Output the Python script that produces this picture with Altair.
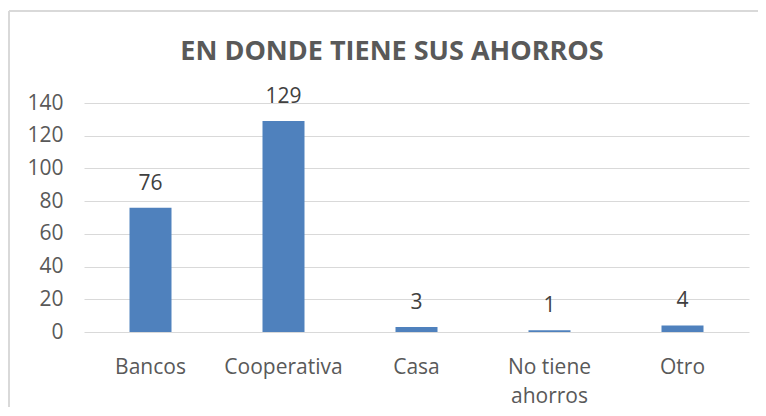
import altair as alt
import pandas as pd

categories = ["Bancos", "Cooperativa", "Casa", "No tiene ahorros", "Otro"]
values = [76, 129, 3, 1, 4]
y_ticks = [0, 20, 40, 60, 80, 100, 120, 140]
title_text = "EN DONDE TIENE SUS AHORROS"

df = pd.DataFrame({"cat": categories, "val": values})

FONT = "Open Sans"
TXT = "#595959"

x_enc = alt.X("cat:N", sort=categories, title=None,
              scale=alt.Scale(paddingInner=0, paddingOuter=0),
              axis=alt.Axis(labelAngle=0, ticks=False, domain=False, grid=False,
                            labelPadding=24, labelFontSize=21, labelColor=TXT,
                            labelFont=FONT, labelLineHeight=29,
                            labelExpr="datum.label == 'No tiene ahorros' ? ['No tiene', 'ahorros'] : datum.label"))
y_enc = alt.Y("val:Q", title=None,
              scale=alt.Scale(domain=[0, 140]),
              axis=alt.Axis(values=y_ticks, ticks=False, domain=False,
                            labelOverlap=False,
                            gridColor="#D9D9D9", gridWidth=1, labelPadding=21,
                            labelFontSize=21, labelColor=TXT, labelFont=FONT))

bars = alt.Chart(df).mark_bar(size=42, color="#4F81BD").encode(x=x_enc, y=y_enc)
labels = alt.Chart(df).mark_text(baseline="alphabetic", dy=-18, fontSize=21, color="#404040", font=FONT).encode(
    x=x_enc, y=y_enc, text="val:Q")

one = pd.DataFrame({"a": [0]})
border_top = alt.Chart(one).mark_rule(color="#D9D9D9", strokeWidth=2, clip=False).encode(
    x=alt.value(-75), x2=alt.value(800), y=alt.value(-92))
border_left = alt.Chart(one).mark_rule(color="#D9D9D9", strokeWidth=2, clip=False).encode(
    x=alt.value(-75), y=alt.value(-92), y2=alt.value(400))

title = alt.Chart(pd.DataFrame({"t": [title_text]})).mark_text(
    fontSize=27, font=FONT, fontWeight="bold", color=TXT, baseline="middle", align="center").encode(
    text="t:N", x=alt.value(308), y=alt.value(-51))

chart = alt.layer(border_top, border_left, bars, labels, title).properties(
    width=665, height=229,
    autosize=alt.AutoSizeParams(type="none"),
    padding={"left": 76, "top": 95, "right": 9, "bottom": 75},
).configure_view(stroke=None)

chart.save("out.html", embed_options={"renderer": "svg", "actions": False})
